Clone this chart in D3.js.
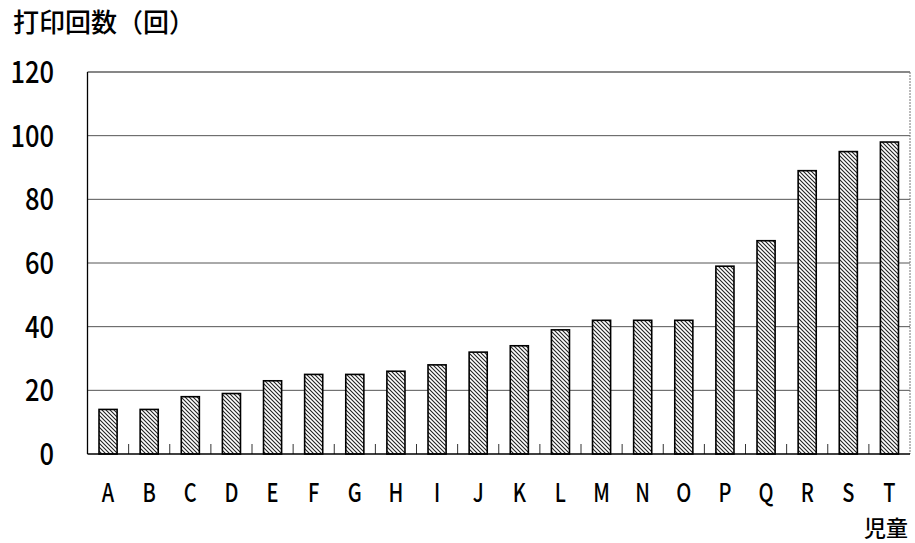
<!DOCTYPE html>
<html><head><meta charset="utf-8">
<script src="https://cdn.jsdelivr.net/npm/d3@7"></script>
<style>body{margin:0;background:#fff}svg{display:block}</style>
</head><body><svg id="c" width="915" height="543"></svg>
<script>
const categories = ["A","B","C","D","E","F","G","H","I","J","K","L","M","N","O","P","Q","R","S","T"];
const values = [14,14,18,19,23,25,25,26,28,32,34,39,42,42,42,59,67,89,95,98];
const yTicks = [0,20,40,60,80,100,120];
const yTitle = "打印回数（回）";
const xTitle = "児童";

const W=915,H=543;
const m={left:87.5,right:5,top:72,bottom:89};
const svg=d3.select("#c");
const defs=svg.append("defs");
const pat=defs.append("pattern").attr("id","hatch").attr("patternUnits","userSpaceOnUse")
  .attr("width",4).attr("height",4);
pat.append("rect").attr("width",4).attr("height",4).attr("fill","#fff");
pat.append("path").attr("d","M-1,-1 L5,5 M-1,3 L1,5 M3,-1 L5,1").attr("stroke","#222").attr("stroke-width",1.1);

const x=d3.scaleBand().domain(categories).range([m.left,W-m.right]).paddingInner(0.56).paddingOuter(0.28);
const y=d3.scaleLinear().domain([0,120]).range([H-m.bottom,m.top]);
const font="'Noto Sans CJK JP','Noto Sans',sans-serif";

// gridlines
svg.append("g").selectAll("line").data(yTicks.filter(d=>d>0&&d<120)).join("line")
  .attr("x1",m.left).attr("x2",W-m.right).attr("y1",d=>y(d)).attr("y2",d=>y(d))
  .attr("stroke","#555").attr("stroke-width",1);
// frame
svg.append("line").attr("x1",m.left).attr("x2",W-m.right).attr("y1",y(120)).attr("y2",y(120)).attr("stroke","#111").attr("stroke-width",1.2);
svg.append("line").attr("x1",W-m.right).attr("x2",W-m.right).attr("y1",y(120)).attr("y2",y(0)).attr("stroke","#777").attr("stroke-width",1).attr("stroke-dasharray","2,1");

// bars
svg.append("g").selectAll("rect").data(values).join("rect")
  .attr("x",(d,i)=>x(categories[i])).attr("width",x.bandwidth())
  .attr("y",d=>y(d)).attr("height",d=>y(0)-y(d))
  .attr("fill","url(#hatch)").attr("stroke","#000").attr("stroke-width",1.6);

// category separator ticks
const gap=(x.step()-x.bandwidth())/2;
svg.append("g").selectAll("line").data(categories.slice(1)).join("line")
  .attr("x1",d=>x(d)-gap).attr("x2",d=>x(d)-gap).attr("y1",y(0)).attr("y2",y(0)-10)
  .attr("stroke","#333").attr("stroke-width",1);

// axes lines
svg.append("line").attr("x1",m.left).attr("x2",m.left).attr("y1",y(120)).attr("y2",y(0)).attr("stroke","#000").attr("stroke-width",1.3);
svg.append("line").attr("x1",m.left).attr("x2",W-m.right).attr("y1",y(0)).attr("y2",y(0)).attr("stroke","#000").attr("stroke-width",1.6);

// y labels
svg.append("g").selectAll("text").data(yTicks).join("text")
  .attr("transform",d=>`translate(54,${y(d)+11}) scale(0.85,1)`)
  .attr("text-anchor","end").attr("font-family",font).attr("font-size",30).attr("font-weight",500).attr("fill","#000")
  .text(d=>d);

// x labels
svg.append("g").selectAll("text").data(categories).join("text")
  .attr("transform",d=>`translate(${x(d)+x.bandwidth()/2},502) scale(0.8,1)`)
  .attr("text-anchor","middle").attr("font-family",font).attr("font-size",25).attr("font-weight",500).attr("fill","#000")
  .text(d=>d);

svg.append("text").attr("x",13).attr("y",32).attr("font-family",font).attr("font-size",26).attr("font-weight",500).attr("fill","#000").text(yTitle);
svg.append("text").attr("x",908).attr("y",536).attr("text-anchor","end").attr("font-family",font).attr("font-size",22).attr("font-weight",500).attr("fill","#000").text(xTitle);
</script></body></html>
